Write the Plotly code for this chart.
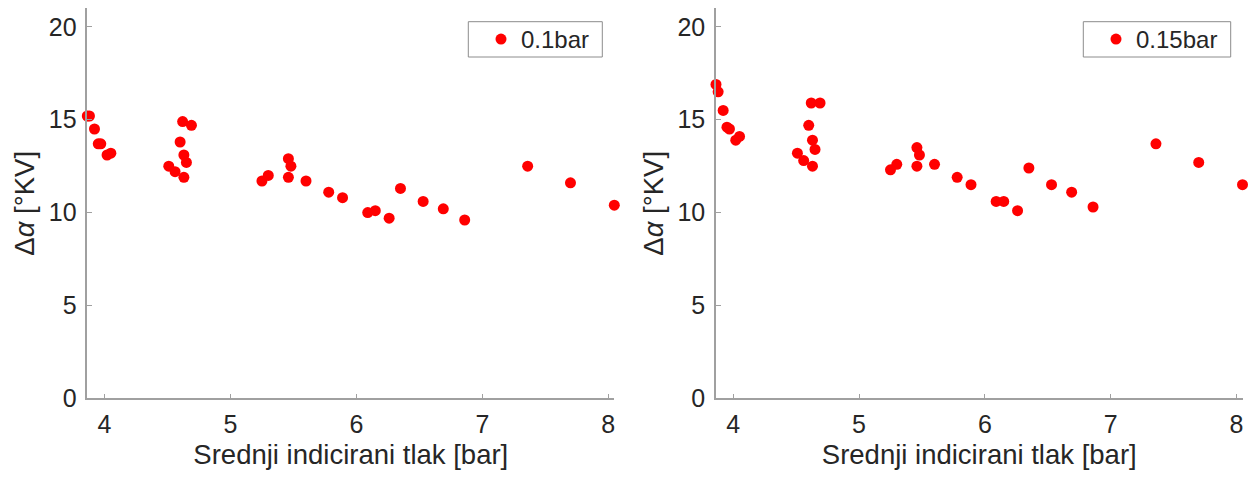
import plotly.graph_objects as go

# shared pressure values (bar)
pressure = [3.863, 3.88, 3.92, 3.95, 3.97, 4.02, 4.05, 4.51, 4.56, 4.63, 4.60, 4.62,
            4.69, 4.63, 4.65, 5.25, 5.30, 5.46, 5.48, 5.46, 5.60, 5.78, 5.89, 6.09,
            6.15, 6.26, 6.35, 6.53, 6.69, 6.86, 7.36, 7.70, 8.048]

delta_01 = [15.2, 15.2, 14.5, 13.7, 13.7, 13.1, 13.2, 12.5, 12.2, 11.9, 13.8, 14.9,
            14.7, 13.1, 12.7, 11.7, 12.0, 12.9, 12.5, 11.9, 11.7, 11.1, 10.8, 10.0,
            10.1, 9.7, 11.3, 10.6, 10.2, 9.6, 12.5, 11.6, 10.4]

delta_015 = [16.9, 16.5, 15.5, 14.6, 14.5, 13.9, 14.1, 13.2, 12.8, 12.5, 14.7, 15.9,
             15.9, 13.9, 13.4, 12.3, 12.6, 13.5, 13.1, 12.5, 12.6, 11.9, 11.5, 10.6,
             10.6, 10.1, 12.4, 11.5, 11.1, 10.3, 13.7, 12.7, 11.5]

series_names = ["0.1bar", "0.15bar"]
x_ticks = [4, 5, 6, 7, 8]
y_ticks = [0, 5, 10, 15, 20]
x_title = "Srednji indicirani tlak [bar]"
y_title = "Δ<i>α</i> [°KV]"

W, H = 1248, 479
FONT = "Liberation Sans, Arial, sans-serif"
AX = "#a0a0a0"
TXT = "#262626"

fig = go.Figure()
fig.add_trace(go.Scatter(x=pressure, y=delta_01, mode="markers", name=series_names[0],
                         marker=dict(color="#ff0000", size=11), cliponaxis=False,
                         xaxis="x", yaxis="y", legend="legend"))
fig.add_trace(go.Scatter(x=pressure, y=delta_015, mode="markers", name=series_names[1],
                         marker=dict(color="#ff0000", size=11), cliponaxis=False,
                         xaxis="x2", yaxis="y2", legend="legend2"))

ydom = [1 - 398.3 / H, 1 - 8.3 / H]
xdom1 = [87.3 / W, 614.3 / W]
xdom2 = [716.0 / W, 1242.5 / W]

def xax(dom, anchor):
    return dict(domain=dom, anchor=anchor, range=[min(pressure), max(pressure)],
                tickvals=x_ticks, ticks="inside", ticklen=5, tickcolor=AX, automargin=False,
                showline=True, linecolor=AX, linewidth=1.5, showgrid=False, zeroline=False,
                ticklabelstandoff=3,
                tickfont=dict(size=25, color=TXT, family=FONT),
                title=dict(text=x_title, font=dict(size=27.5, color=TXT, family=FONT), standoff=8))

def yax(anchor):
    return dict(domain=ydom, anchor=anchor, range=[0, 21], tickvals=y_ticks, automargin=False,
                ticks="inside", ticklen=5, tickcolor=AX, ticklabelstandoff=4,
                showline=True, linecolor=AX, linewidth=1.5, showgrid=False, zeroline=False,
                tickfont=dict(size=25, color=TXT, family=FONT),
                title=dict(text=y_title, font=dict(size=27.5, color=TXT, family=FONT), standoff=6))

legend_common = dict(bgcolor="rgba(0,0,0,0)", borderwidth=0,
                     font=dict(size=24, color=TXT, family=FONT),
                     xanchor="left", yanchor="middle", y=1 - 39.5 / H)

# legend frames (paper coordinates)
frames = [(468.3, 602.3), (1083.3, 1230.7)]
shapes = [dict(type="rect", xref="paper", yref="paper", x0=a / W, x1=b / W,
               y0=1 - 57 / H, y1=1 - 21.7 / H, line=dict(color="#8c8c8c", width=1),
               fillcolor="white", layer="above") for a, b in frames]

fig.update_layout(
    width=W, height=H,
    margin=dict(l=0, r=0, t=0, b=0, autoexpand=False),
    paper_bgcolor="white", plot_bgcolor="white",
    font=dict(family=FONT, color=TXT),
    xaxis=xax(xdom1, "y"), yaxis=yax("x"),
    xaxis2=xax(xdom2, "y2"), yaxis2=yax("x2"),
    legend=dict(x=481 / W, **legend_common),
    legend2=dict(x=1096 / W, **legend_common),
    shapes=shapes,
    showlegend=True,
)

fig.write_html("out.html", config={"displayModeBar": False},
               post_script="document.body.style.margin='0';document.body.style.overflow='hidden';")
